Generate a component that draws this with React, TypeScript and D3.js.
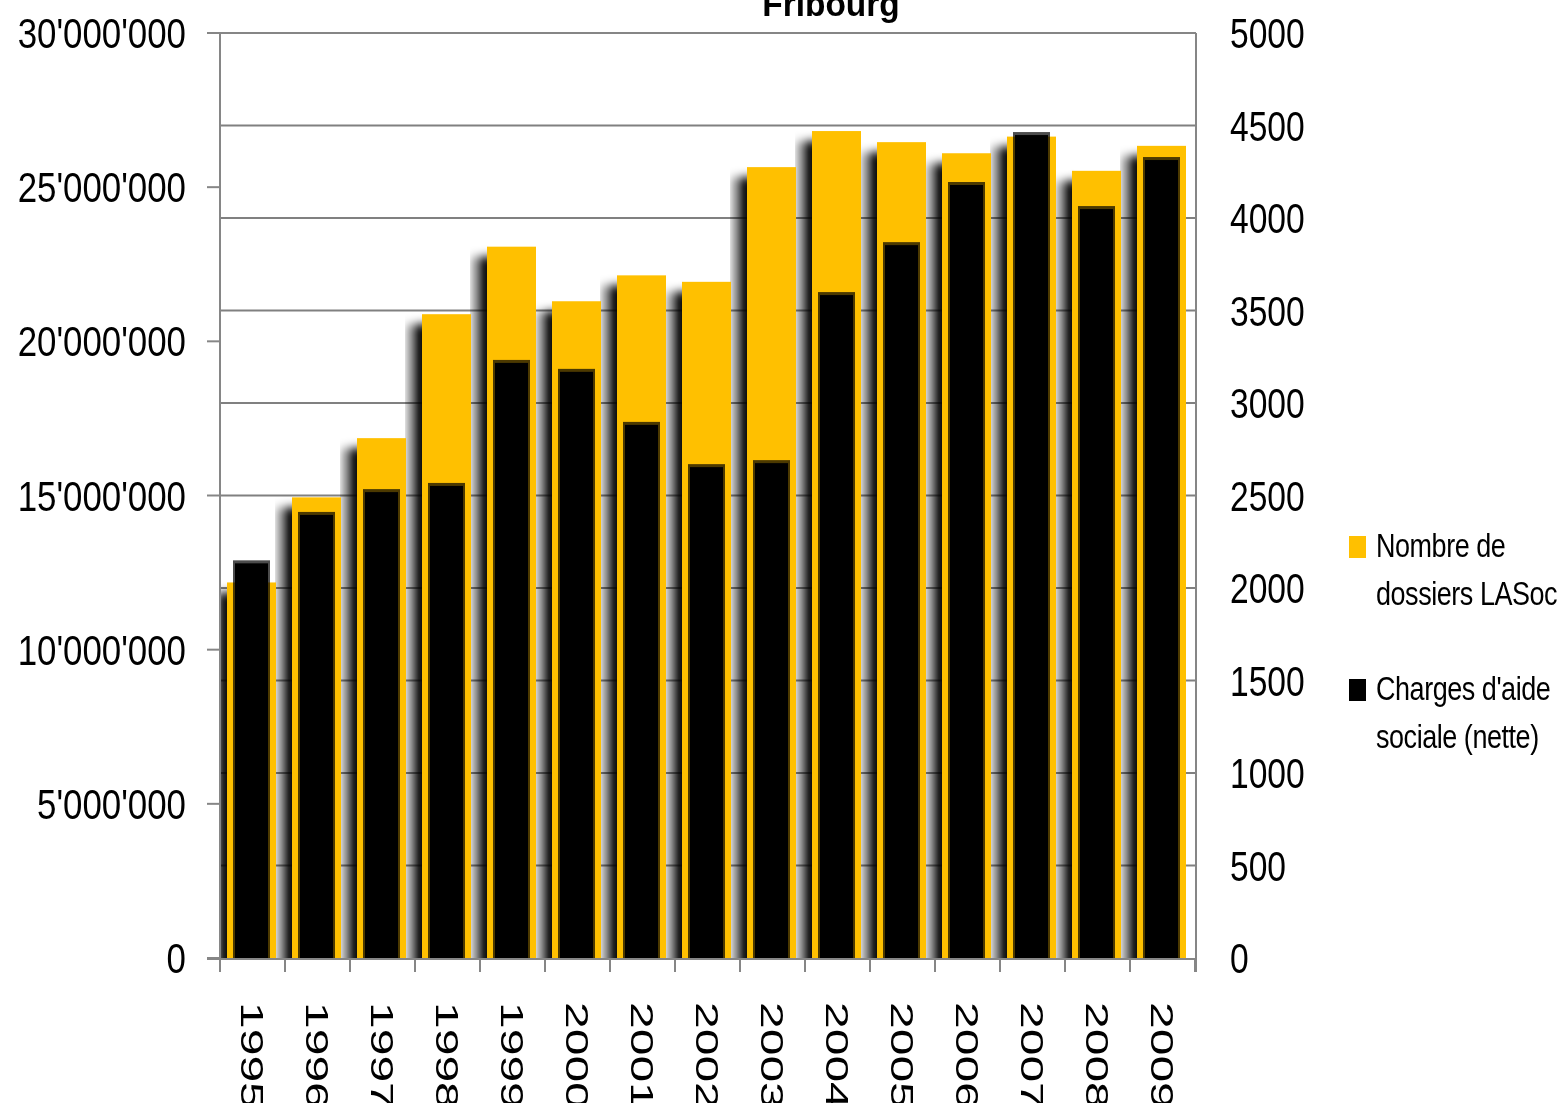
import React from 'react';
import * as d3 from 'd3';

const years = ['1995', '1996', '1997', '1998', '1999', '2000', '2001', '2002', '2003', '2004', '2005', '2006', '2007', '2008', '2009'];
// Nombre de dossiers LASoc (right axis)
const dossiers = [2030, 2490, 2810, 3480, 3845, 3550, 3690, 3655, 4275, 4470, 4410, 4350, 4440, 4255, 4390];
// Charges d'aide sociale nette, CHF (left axis)
const charges = [12800000, 14370000, 15110000, 15310000, 19300000, 19010000, 17290000, 15920000, 16050000, 21500000, 23120000, 25070000, 26690000, 24290000, 25880000];
const leftTicks = [0, 5000000, 10000000, 15000000, 20000000, 25000000, 30000000];
const rightTicks = [0, 500, 1000, 1500, 2000, 2500, 3000, 3500, 4000, 4500, 5000];
const legendItems = [
  { color: '#FFC000', lines: ['Nombre de', 'dossiers LASoc'] },
  { color: '#000000', lines: ["Charges d'aide", 'sociale (nette)'] },
];

const W = 1557;
const H = 1103;
const margin = { left: 220, right: 1196, top: 33, bottom: 958 };
const axisColor = '#868686';
const font = "'Liberation Sans', Arial, sans-serif";

const fmtLeft = (v: number) => d3.format(',')(v).replace(/,/g, "'");

const SText: React.FC<{
  x: number; y: number; sx?: number; sy?: number; rotate?: number;
  size: number; anchor?: string; weight?: string; dy?: string; spacing?: number; children: React.ReactNode;
}> = ({ x, y, sx = 1, sy = 1, rotate, size, anchor = 'start', weight = 'normal', dy, spacing, children }) => (
  <text
    transform={`translate(${x},${y}) scale(${sx},${sy})${rotate ? ` rotate(${rotate})` : ''}`}
    fontFamily={font}
    fontSize={size}
    fontWeight={weight}
    textAnchor={anchor}
    letterSpacing={spacing}
    dy={dy}
    fill="#000"
  >
    {children}
  </text>
);

export default function App() {
  const x = d3.scaleBand<string>().domain(years).range([margin.left, 1195]);
  const yL = d3.scaleLinear().domain([0, 30000000]).range([margin.bottom, margin.top]);
  const yR = d3.scaleLinear().domain([0, 5000]).range([margin.bottom, margin.top]);

  const yellowW = 49;
  const blackW = 33;
  const shadowW = 17;
  const center = (yr: string) => (x(yr) as number) + x.bandwidth() / 2 - 1;

  return (
    <svg width={W} height={H} style={{ position: 'absolute', left: 0, top: 0, background: '#fff' }}>
      <defs>
        <linearGradient id="shGrad" x1="0" x2="1" y1="0" y2="0">
          <stop offset="0" stopColor="#000" stopOpacity={0.12} />
          <stop offset="0.35" stopColor="#000" stopOpacity={0.45} />
          <stop offset="0.7" stopColor="#000" stopOpacity={0.85} />
          <stop offset="1" stopColor="#000" stopOpacity={1} />
        </linearGradient>
        <filter id="shBlur" x="-10%" y="-10%" width="120%" height="120%">
          <feGaussianBlur stdDeviation="0 5" />
        </filter>
        <clipPath id="plotClip">
          <rect x={margin.left + 1} y={margin.top} width={margin.right - margin.left - 1} height={margin.bottom - margin.top} />
        </clipPath>
      </defs>

      {/* title (cut at top) */}
      <SText x={831} y={16} sx={0.93} size={36} weight="bold" anchor="middle">Fribourg</SText>

      {/* drop shadows left of each bar group */}
      <g clipPath="url(#plotClip)">
        {years.map((yr, i) => {
          const top = yR(dossiers[i]);
          const left = center(yr) - yellowW / 2;
          return (
            <rect key={yr} x={left - shadowW} y={top + 10} width={shadowW + 2} height={margin.bottom - top + 10}
              fill="url(#shGrad)" filter="url(#shBlur)" />
          );
        })}
      </g>

      {/* gridlines from right axis */}
      {rightTicks.filter(t => t > 0 && t < 5000).map(t => (
        <line key={t} x1={margin.left} x2={margin.right} y1={yR(t)} y2={yR(t)}
          stroke="#808080" strokeWidth={2} style={{ mixBlendMode: 'multiply' }} />
      ))}

      {/* bars */}
      {years.map((yr, i) => {
        const c = center(yr);
        const yy = yR(dossiers[i]);
        const yb = yL(charges[i]);
        return (
          <g key={yr}>
            <rect x={c - yellowW / 2} y={yy} width={yellowW} height={margin.bottom - yy} fill="#FFC000" />
            <rect x={c - blackW / 2 - 2} y={yb - 3} width={blackW + 4} height={margin.bottom - yb + 3} fill="#000" opacity={0.7} />
            <rect x={c - blackW / 2} y={yb} width={blackW} height={margin.bottom - yb} fill="#000" />
          </g>
        );
      })}

      {/* plot border / axes */}
      <line x1={margin.left} x2={margin.right} y1={margin.top} y2={margin.top} stroke={axisColor} strokeWidth={2} />
      <line x1={margin.right} x2={margin.right} y1={margin.top} y2={972} stroke={axisColor} strokeWidth={2} />
      <line x1={margin.left} x2={margin.left} y1={margin.top} y2={972} stroke={axisColor} strokeWidth={2} />
      <line x1={207} x2={margin.right} y1={959} y2={959} stroke={axisColor} strokeWidth={2} />

      {/* left ticks + labels */}
      {leftTicks.map(t => (
        <g key={t}>
          <line x1={207} x2={margin.left} y1={yL(t)} y2={yL(t)} stroke={axisColor} strokeWidth={2} />
          <SText x={186} y={yL(t)} sx={0.83} size={42} anchor="end" dy="0.36em">{fmtLeft(t)}</SText>
        </g>
      ))}

      {/* right labels */}
      {rightTicks.map(t => (
        <SText key={t} x={1230} y={yR(t)} sx={0.8} size={42} dy="0.36em">{String(t)}</SText>
      ))}

      {/* x ticks at band edges */}
      {years.concat(['end']).map((yr, i) => {
        const xx = margin.left + i * x.step();
        return <line key={yr} x1={xx} x2={xx} y1={959} y2={972} stroke={axisColor} strokeWidth={2} />;
      })}

      {/* rotated year labels */}
      {years.map(yr => (
        <SText key={yr} x={center(yr) + 1} y={1002} sy={1.5} rotate={90} size={32} dy="0.36em">{yr}</SText>
      ))}

      {/* legend */}
      {legendItems.map((item, i) => {
        const base = 557 + i * 143;
        return (
          <g key={i}>
            <rect x={1349} y={base - 21} width={17} height={22} fill={item.color} />
            {item.lines.map((ln, j) => (
              <SText key={j} x={1376} y={base + j * 48} sx={0.9} sy={1.1} size={30} spacing={-0.5}>{ln}</SText>
            ))}
          </g>
        );
      })}
    </svg>
  );
}
